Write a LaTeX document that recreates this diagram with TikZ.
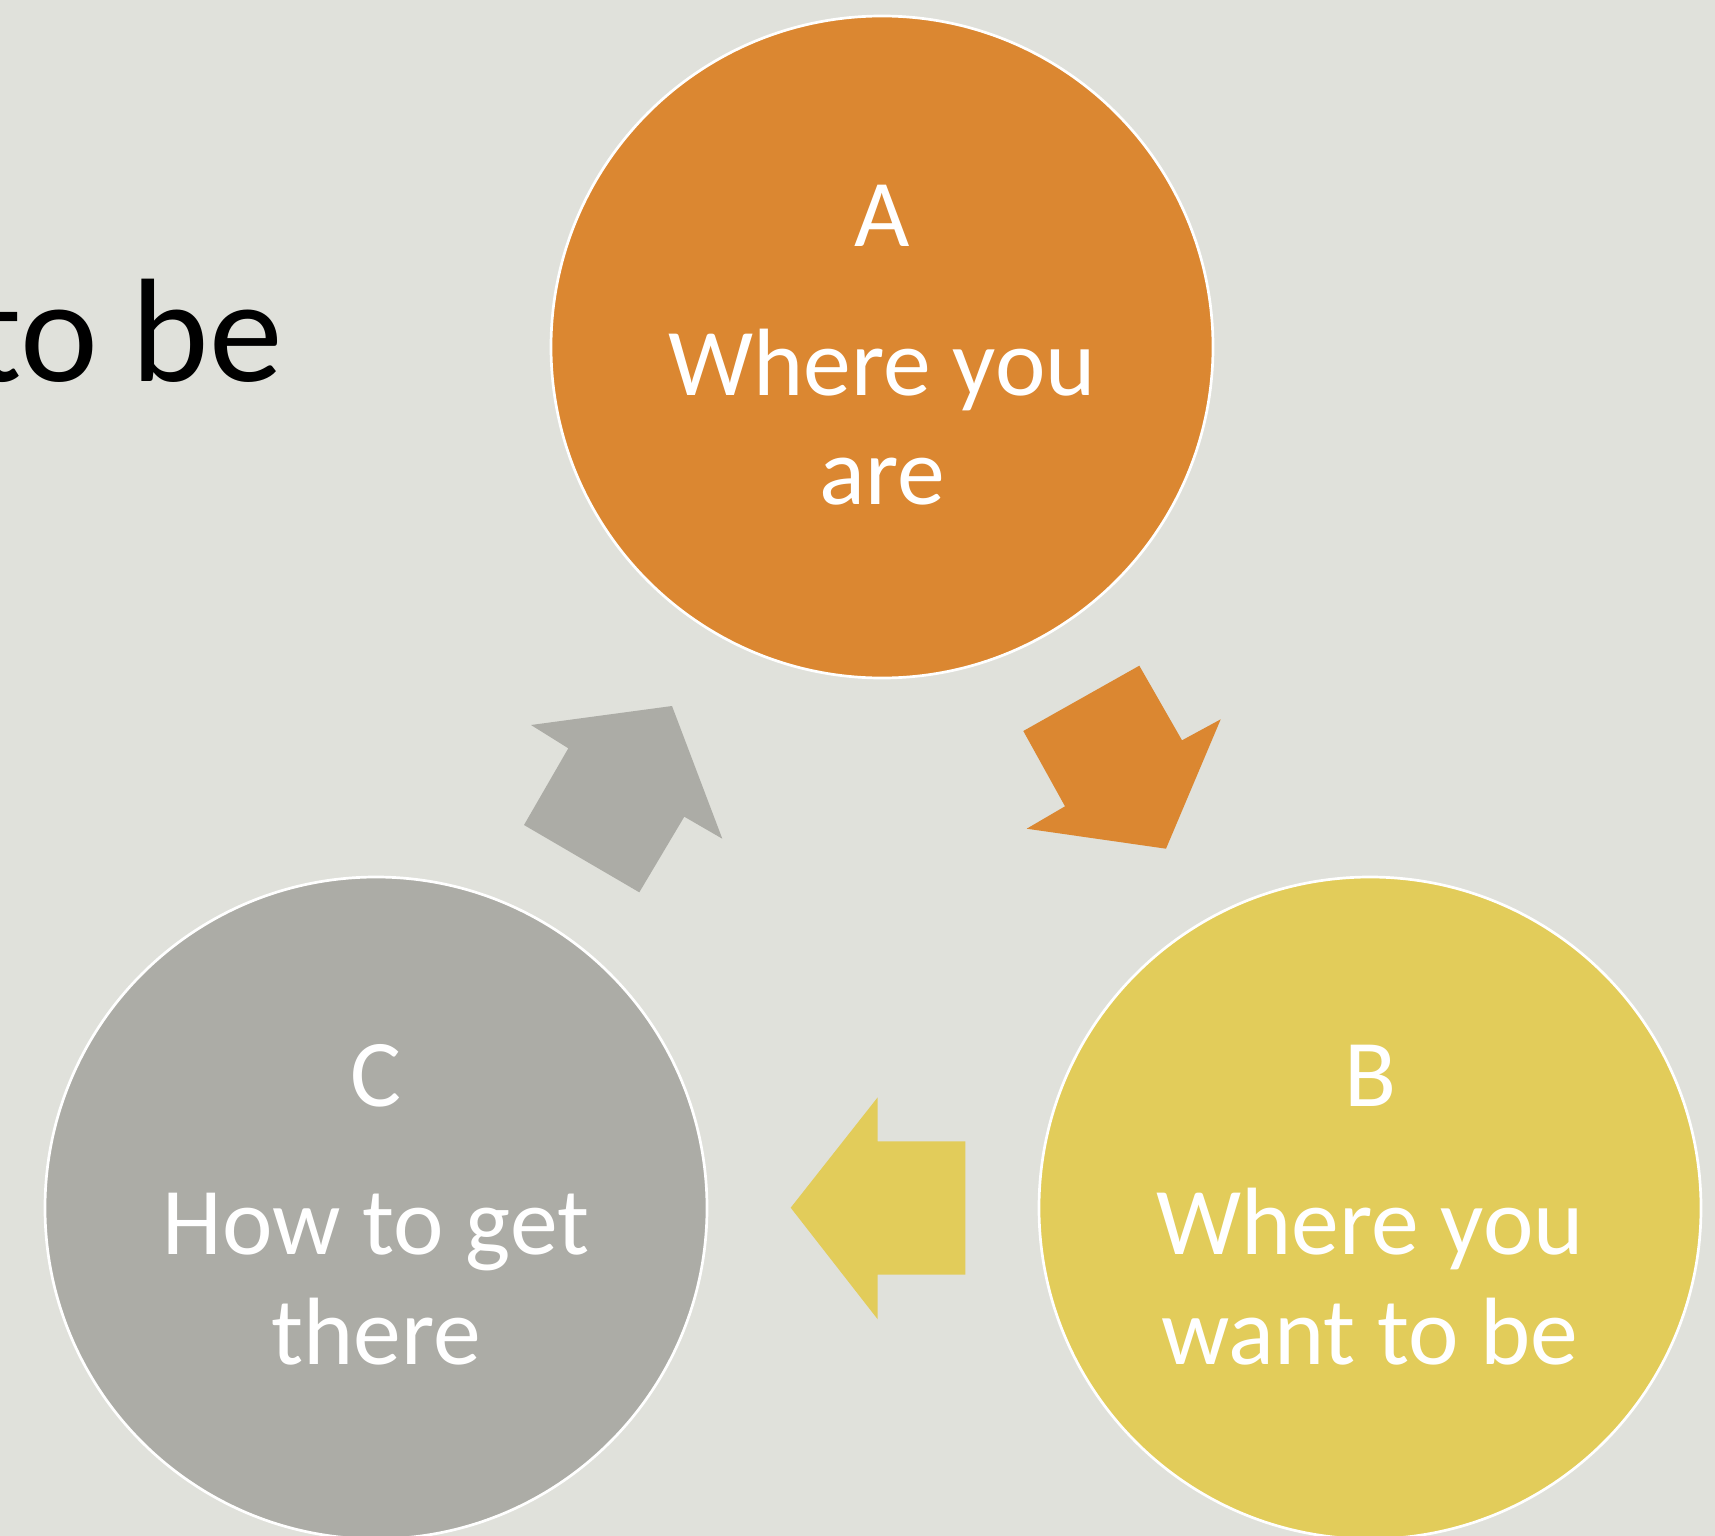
\documentclass[tikz,border=0pt]{standalone}
\usepackage{fontspec}
\setmainfont{Carlito}
\definecolor{bg}{RGB}{224,225,219}
\definecolor{orangeA}{RGB}{219,135,49}
\definecolor{yellowB}{RGB}{226,204,90}
\definecolor{grayC}{RGB}{172,172,166}

\begin{document}
\begin{tikzpicture}[x=1bp,y=-1bp,
  stage/.style={circle, draw=white, line width=2.7bp, minimum size=662bp, inner sep=0pt},
  txt/.style={text=white, font=\fontsize{96}{109}\selectfont, anchor=base, inner sep=0pt},
  blockarrow/.style={draw=none},
]
\fill[bg] (0,0) rectangle (1715,1536);
\useasboundingbox (0,0) rectangle (1715,1536);
\clip (0,0) rectangle (1715,1536);

% heading fragment at the left edge
\node[anchor=base east, inner sep=0pt, font=\fontsize{148}{160}\selectfont] (title) at (283,381.5) {to be};

% the three stages
\node[stage, fill=orangeA] (A) at (882,347) {};
\node[stage, fill=yellowB] (B) at (1370,1208) {};
\node[stage, fill=grayC]   (C) at (376,1208) {};

\node[txt] (Aletter) at (882,246)   {A};
\node[txt] (Aline1)  at (882,395)   {Where you};
\node[txt] (Aline2)  at (882,504)   {are};

\node[txt] (Bletter) at (1370,1106) {B};
\node[txt] (Bline1)  at (1370,1254.5) {Where you};
\node[txt] (Bline2)  at (1370,1364) {want to be};

\node[txt] (Cletter) at (376,1106)  {C};
\node[txt] (Cline1)  at (376,1254.5) {How to get};
\node[txt] (Cline2)  at (376,1364)  {there};

% block arrows: A -> B
\fill[orangeA, blockarrow] (1023.3,731) -- (1139.3,665.7) -- (1182,740.3) -- (1220.7,719.3)
  -- (1166,848.7) -- (1026.7,828.7) -- (1065,806.3) -- cycle;
% B -> C
\fill[yellowB, blockarrow] (790.7,1207.7) -- (877.7,1097.3) -- (877.7,1141.3) -- (965.3,1141.3)
  -- (965.3,1274.7) -- (877.7,1274.7) -- (877.7,1319.3) -- cycle;
% C -> A
\fill[grayC, blockarrow] (672,706) -- (722.3,838.7) -- (684.3,816.7) -- (639.3,892.3)
  -- (524,825) -- (568.3,748.3) -- (531,725) -- cycle;
\end{tikzpicture}
\end{document}
